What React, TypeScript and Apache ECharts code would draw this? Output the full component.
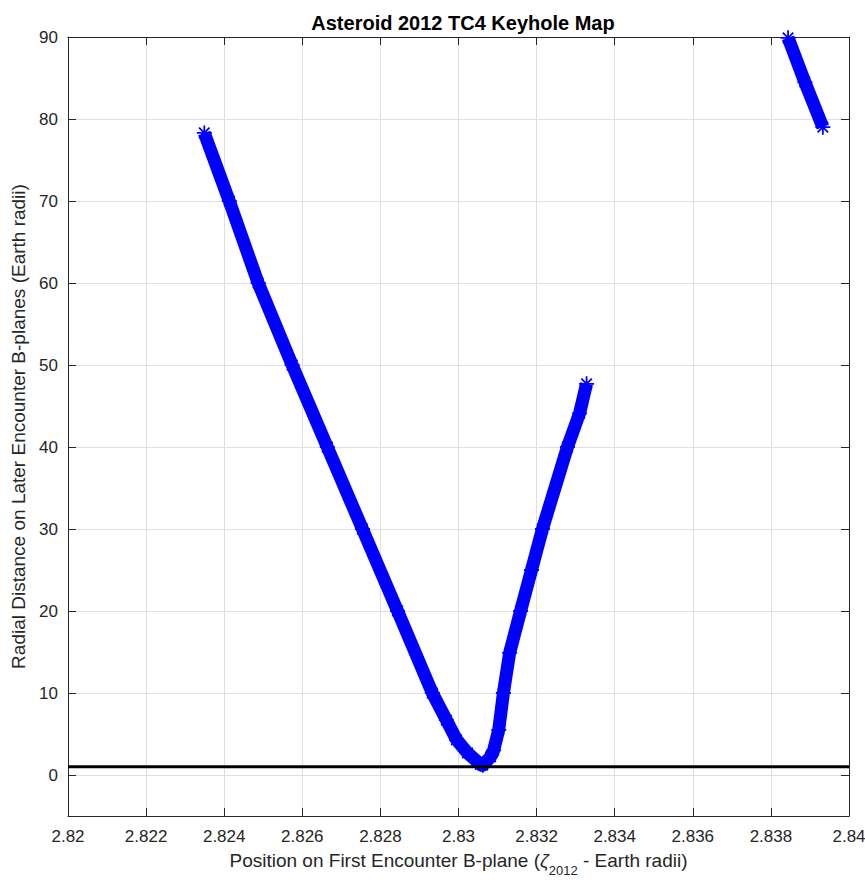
import React, { useEffect, useRef } from 'react';
import * as echarts from 'echarts';

const TITLE = 'Asteroid 2012 TC4 Keyhole Map';
const X_NAME = 'Position on First Encounter B-plane ({z|ζ}{s|2012} - Earth radii)';
const Y_NAME = 'Radial Distance on Later Encounter B-planes (Earth radii)';

// Main keyhole curve: left (descending) branch then right (ascending) branch
const curveX = [
  2.82349, 2.82413, 2.82487, 2.82574, 2.82664, 2.82754, 2.82844, 2.82933, 2.82969,
  2.82995, 2.83023, 2.83056, 2.83062, 2.83082, 2.8309, 2.83103, 2.83115, 2.83131,
  2.83159, 2.83187, 2.83215, 2.83279, 2.8331, 2.83328,
];
const curveY = [
  78.3, 70, 60, 50, 40, 30, 20, 10, 6.7,
  4.3, 2.7, 1.3, 1.2, 2.2, 3.0, 5.5, 10, 14.9,
  20, 25, 30, 40, 44.1, 47.7,
];

// Second segment at top right
const farX = [2.83844, 2.83887, 2.83933];
const farY = [89.9, 84.5, 79.0];

// Reference line (1 Earth radius)
const refLineX = [2.82, 2.84];
const refLineY = [1, 1];

const X_MIN = 2.82;
const X_MAX = 2.84;
const X_STEP = 0.002;
const Y_MIN = -5;
const Y_MAX = 90;

const STAR = 'path://M10 0L10 20M0 10L20 10M3 3L17 17M17 3L3 17';
const AXIS_COLOR = '#262626';
const GRID_COLOR = '#dfdfdf';
const FONT = '"Liberation Sans", Arial, Helvetica, sans-serif';

function zip(xs: number[], ys: number[]) {
  return xs.map((x, i) => [x, ys[i]]);
}

export default function App() {
  const ref = useRef<HTMLDivElement>(null);
  useEffect(() => {
    const chart = echarts.init(ref.current!, null, { renderer: 'svg' });
    const band = (name: string, xs: number[], ys: number[]) => ({
      type: 'line',
      name,
      data: zip(xs, ys),
      xAxisIndex: 0,
      yAxisIndex: 0,
      lineStyle: { color: '#0000ff', width: 13, cap: 'butt', join: 'round' },
      symbol: STAR,
      symbolSize: 15,
      showSymbol: true,
      showAllSymbol: true,
      itemStyle: { color: '#0000ff', borderColor: '#0000ff', borderWidth: 1.8 },
      clip: false,
      silent: true,
      z: 3,
    });
    const sideAxisX = {
      type: 'value',
      min: X_MIN,
      max: X_MAX,
      interval: X_STEP,
      axisLine: { show: true, onZero: false, lineStyle: { color: AXIS_COLOR, width: 1 } },
      axisTick: { show: true, inside: true, length: 8, lineStyle: { color: AXIS_COLOR } },
      splitLine: { show: false },
    };
    const sideAxisY = {
      type: 'value',
      min: Y_MIN,
      max: Y_MAX,
      splitNumber: 10,
      axisLine: { show: true, onZero: false, lineStyle: { color: AXIS_COLOR, width: 1 } },
      axisTick: { show: true, inside: true, length: 8, lineStyle: { color: AXIS_COLOR } },
      splitLine: { show: false },
    };
    chart.setOption({
      animation: false,
      backgroundColor: '#ffffff',
      textStyle: { fontFamily: FONT },
      title: {
        text: TITLE,
        left: 458,
        textAlign: 'center',
        top: 8,
        textStyle: { fontFamily: FONT, fontSize: 20, fontWeight: 'bold', color: '#000000' },
      },
      grid: { left: 68, right: 16, top: 37, bottom: 66, containLabel: false, outerBoundsMode: 'none' },
      xAxis: [
        {
          ...sideAxisX,
          position: 'bottom',
          axisLabel: {
            show: true,
            fontSize: 17,
            color: AXIS_COLOR,
            margin: 12,
            fontFamily: FONT,
            formatter: (v: number) => String(parseFloat(v.toFixed(4))),
          },
          splitLine: { show: true, lineStyle: { color: GRID_COLOR, width: 1 } },
          name: X_NAME,
          nameLocation: 'middle',
          nameGap: 33,
          nameTextStyle: {
            fontSize: 19,
            color: AXIS_COLOR,
            fontFamily: FONT,
            lineHeight: 22,
            rich: {
              z: { fontSize: 19, fontStyle: 'italic', color: AXIS_COLOR, fontFamily: FONT, lineHeight: 22 },
              s: { fontSize: 13, color: AXIS_COLOR, fontFamily: FONT, verticalAlign: 'bottom', lineHeight: 13, padding: [0, 0, -5, 0] },
            },
          },
        },
        { ...sideAxisX, position: 'top', axisLabel: { show: false } },
      ],
      yAxis: [
        {
          ...sideAxisY,
          position: 'left',
          axisLabel: {
            show: true,
            fontSize: 17,
            color: AXIS_COLOR,
            margin: 10,
            fontFamily: FONT,
            formatter: (v: number) => (v < 0 ? '' : String(v)),
          },
          splitLine: { show: true, lineStyle: { color: GRID_COLOR, width: 1 } },
          name: Y_NAME,
          nameLocation: 'middle',
          nameGap: 38,
          nameTextStyle: { fontSize: 19, color: AXIS_COLOR, fontFamily: FONT },
        },
        { ...sideAxisY, position: 'right', axisLabel: { show: false } },
      ],
      series: [
        band('curve', curveX, curveY),
        band('far', farX, farY),
        {
          type: 'line',
          name: 'ref',
          data: zip(refLineX, refLineY),
          symbol: 'none',
          lineStyle: { color: '#000000', width: 3 },
          silent: true,
          z: 4,
        },
      ],
    });
    return () => chart.dispose();
  }, []);
  return (
    <div
      ref={ref}
      style={{ position: 'absolute', left: 0, top: 0, width: 865, height: 882, background: '#fff' }}
    />
  );
}
